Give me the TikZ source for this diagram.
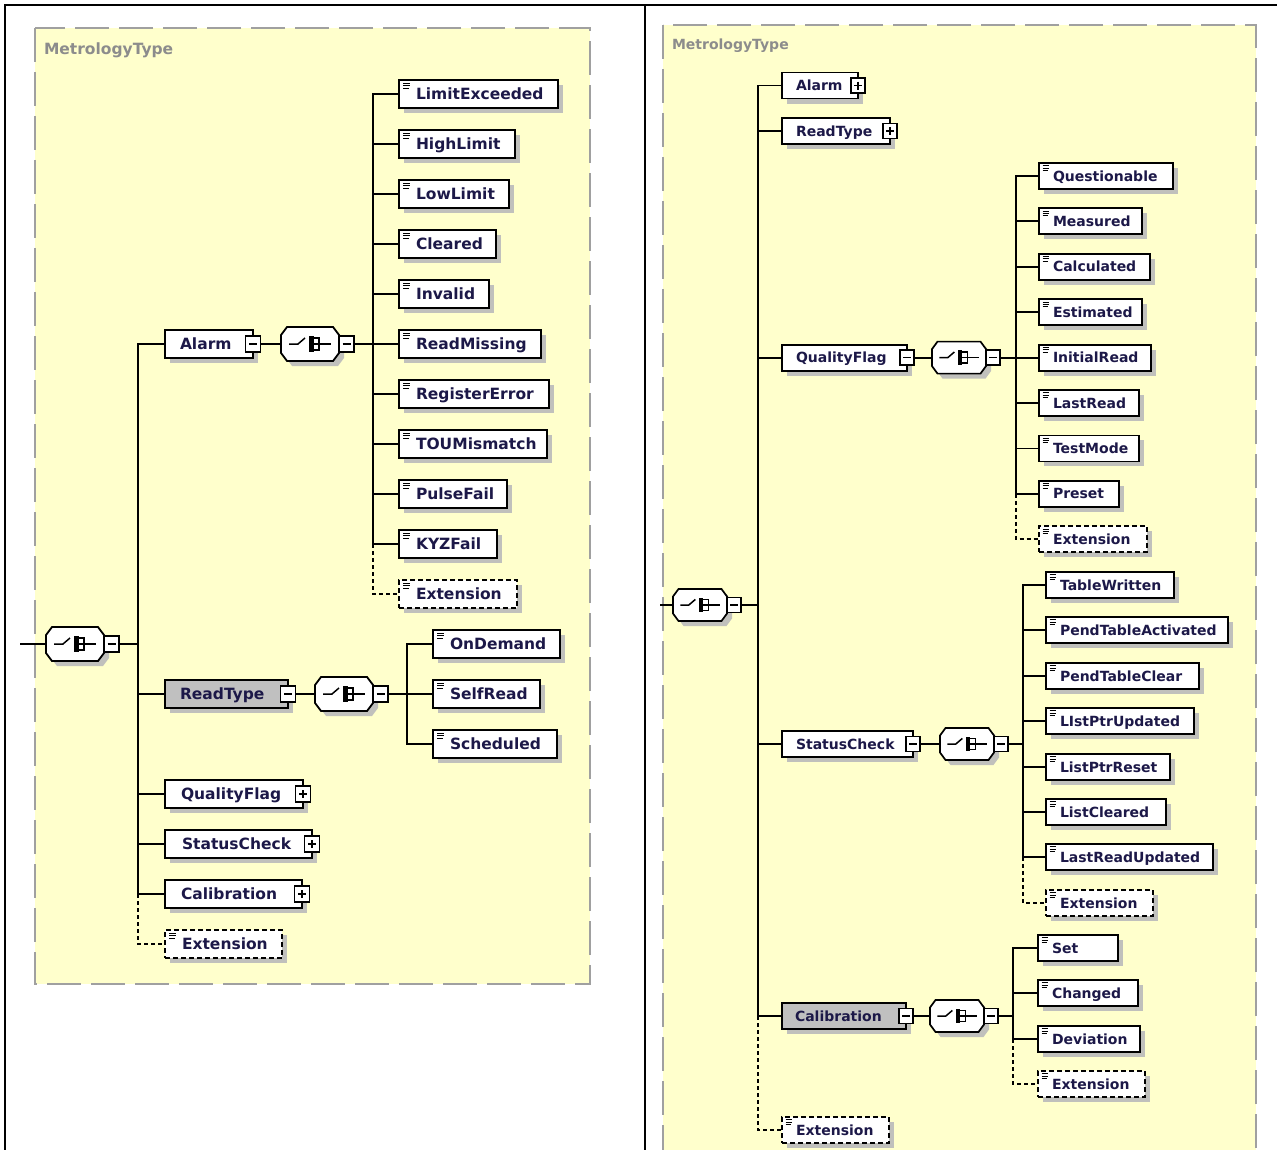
\documentclass[tikz,border=0pt]{standalone}
\usepackage{fontspec}
\setmainfont{DejaVu Sans}
\usetikzlibrary{shadows,calc}
\definecolor{frameyellow}{RGB}{255,255,204}
\definecolor{framegray}{RGB}{160,160,160}
\definecolor{shadowgray}{RGB}{192,192,188}
\definecolor{namecol}{RGB}{28,24,72}
\definecolor{shadecol}{RGB}{192,192,192}
\definecolor{labelgray}{RGB}{140,140,140}
\newcommand{\bx}[3]{\hbox to #1pt{\hskip#2pt\relax #3\hss}}
\newcommand{\fL}{\bfseries\fontsize{15.5}{18}\selectfont}
\newcommand{\fR}{\bfseries\fontsize{14}{16}\selectfont}
\begin{document}
\begin{tikzpicture}[x=1pt,y=-1pt,
  every node/.style={inner sep=0pt,outer sep=0pt},
  conn/.style={line width=1.8pt,black},
  optconn/.style={line width=1.6pt,black,dash pattern=on 4pt off 3pt},
  shad/.style={drop shadow={shadow xshift=5pt,shadow yshift=-5pt,fill=shadowgray,opacity=1}},
  boxbase/.style={draw,line width=1.8pt,fill=white,shad,anchor=west,text=namecol},
  elL/.style={boxbase,minimum height=28pt,font=\fL,text height=11.3pt,text depth=0pt},
  elR/.style={boxbase,minimum height=26pt,font=\fR,text height=10.2pt,text depth=0pt},
  optbox/.style={dash pattern=on 5pt off 3pt},
  shaded/.style={fill=shadecol},
  hexL/.style={rectangle,minimum width=58pt,minimum height=34pt},
  hexR/.style={rectangle,minimum width=54pt,minimum height=32pt},
  pmL/.style={draw,line width=1.4pt,fill=white,minimum width=15pt,minimum height=16pt},
  pmR/.style={draw,line width=1.3pt,fill=white,minimum width=14pt,minimum height=15pt},
  lbl/.style={anchor=base west,text=labelgray},
  octL/.pic={
    \fill[shadowgray,shift={(5,5)}] (-29,-9) -- (-23,-17) -- (23,-17) -- (29,-9) -- (29,9) -- (23,17) -- (-23,17) -- (-29,9) -- cycle;
    \filldraw[fill=white,line width=1.8pt] (-29,-9) -- (-23,-17) -- (23,-17) -- (29,-9) -- (29,9) -- (23,17) -- (-23,17) -- (-29,9) -- cycle;
  },
  octR/.pic={
    \fill[shadowgray,shift={(5,5)}] (-27,-8.5) -- (-21.5,-16) -- (21.5,-16) -- (27,-8.5) -- (27,8.5) -- (21.5,16) -- (-21.5,16) -- (-27,8.5) -- cycle;
    \filldraw[fill=white,line width=1.7pt] (-27,-8.5) -- (-21.5,-16) -- (21.5,-16) -- (27,-8.5) -- (27,8.5) -- (21.5,16) -- (-21.5,16) -- (-27,8.5) -- cycle;
  },
  seqsym/.pic={
    \draw[line width=1.5pt] (-21,0) -- (-12,0) -- (-5,-6);
    \fill (-1.5,-8) rectangle (3.5,8);
    \draw[line width=1.5pt] (3.5,-6) -- (9,-6) -- (9,6) -- (3.5,6) (3.5,0) -- (21,0);
  },
  minussym/.pic={\draw[line width=1.3pt] (-4,0) -- (4,0);},
  plussym/.pic={\draw[line width=1.3pt] (-4,0) -- (4,0) (0,-4) -- (0,4);},
  leafsym/.pic={\draw[line width=0.9pt] (4,3) -- (11,3) (4,5.5) -- (11,5.5) (4,8) -- (10,8);}
]
\useasboundingbox (0,0) rectangle (1277,1150);
\clip (0,0) rectangle (1277,1150);

% ---------- frames ----------
\fill[frameyellow] (35,28) rectangle (590,984);
\draw[framegray,line width=2pt,dash pattern=on 34pt off 10pt] (35,28) rectangle (590,984);
\fill[frameyellow] (663,25) rectangle (1256,1170);
\draw[framegray,line width=2pt,dash pattern=on 34pt off 10pt] (663,25) rectangle (1256,1170);
\draw[line width=2.5pt] (5,1160) -- (5,5) -- (1290,5);
\draw[line width=2.5pt] (645,5) -- (645,1160);
\node[lbl,font=\fL] (titleL) at (44,55) {MetrologyType};
\node[lbl,font=\fR] (titleR) at (672,50) {MetrologyType};

% =================== LEFT PANEL ===================
\coordinate (rinL) at (20,644);
\node[hexL] (rootL) at (75,644) {};
\pic at (rootL) {octL}; \pic at (rootL) {seqsym};
\node[pmL,anchor=west] (rootLpm) at (rootL.east) {};
\pic at (rootLpm) {minussym};
\coordinate (jA) at (138,644);

% Alarm
\node[elL] (alarmL) at (165,344) {\bx{88}{15}{Alarm}};
\node[pmL] (alarmLpm) at (alarmL.east) {}; \pic at (alarmLpm) {minussym};
\node[hexL] (hexAL) at (310,344) {}; \pic at (hexAL) {octL}; \pic at (hexAL) {seqsym};
\node[pmL,anchor=west] (hexALpm) at (hexAL.east) {}; \pic at (hexALpm) {minussym};
\coordinate (jB) at (373,344);

\foreach \n/\yy/\w/\t in {lA1/94/159/LimitExceeded,lA2/144/116/HighLimit,lA3/194/110/LowLimit,lA4/244/97/Cleared,lA5/294/90/Invalid,lA6/344/142/ReadMissing,lA7/394/150/RegisterError,lA8/444/148/TOUMismatch,lA9/494/108/PulseFail,lA10/544/98/KYZFail}{
  \node[elL] (\n) at (399,\yy) {\bx{\w}{17}{\t}};
  \pic at (\n.north west) {leafsym};
}
\node[elL,optbox] (lAx) at (399,594) {\bx{118}{17}{Extension}};
\pic at (lAx.north west) {leafsym};

% ReadType
\node[elL,shaded] (readL) at (165,694) {\bx{123}{15}{ReadType}};
\node[pmL] (readLpm) at (readL.east) {}; \pic at (readLpm) {minussym};
\node[hexL] (hexRL) at (344,694) {}; \pic at (hexRL) {octL}; \pic at (hexRL) {seqsym};
\node[pmL,anchor=west] (hexRLpm) at (hexRL.east) {}; \pic at (hexRLpm) {minussym};
\coordinate (jC) at (407,694);
\foreach \n/\yy/\w/\t in {lB1/644/127/OnDemand,lB2/694/107/SelfRead,lB3/744/124/Scheduled}{
  \node[elL] (\n) at (433,\yy) {\bx{\w}{17}{\t}};
  \pic at (\n.north west) {leafsym};
}

% other children
\node[elL] (qualL) at (165,794) {\bx{138}{16}{QualityFlag}};
\node[pmL] (qualLpm) at (qualL.east) {}; \pic at (qualLpm) {plussym};
\node[elL] (statL) at (165,844) {\bx{147}{17}{StatusCheck}};
\node[pmL] (statLpm) at (statL.east) {}; \pic at (statLpm) {plussym};
\node[elL] (calL) at (165,894) {\bx{137}{16}{Calibration}};
\node[pmL] (calLpm) at (calL.east) {}; \pic at (calLpm) {plussym};
\node[elL,optbox] (extL) at (165,944) {\bx{117}{17}{Extension}};
\pic at (extL.north west) {leafsym};

% left connectors
\draw[conn] (rinL) -- (rootL.west);
\draw[conn] (rootLpm.east) -- (jA);
\foreach \c in {alarmL,readL,qualL,statL,calL}{\draw[conn] (jA) |- (\c.west);}
\draw[optconn] (jA |- calL.west) |- (extL.west);
\draw[conn] (alarmLpm.east) -- (hexAL.west);
\draw[conn] (hexALpm.east) -- (jB);
\foreach \c in {lA1,lA2,lA3,lA4,lA5,lA6,lA7,lA8,lA9,lA10}{\draw[conn] (jB) |- (\c.west);}
\draw[optconn] (jB |- lA10.west) |- (lAx.west);
\draw[conn] (readLpm.east) -- (hexRL.west);
\draw[conn] (hexRLpm.east) -- (jC);
\foreach \c in {lB1,lB2,lB3}{\draw[conn] (jC) |- (\c.west);}

% =================== RIGHT PANEL ===================
\coordinate (rinR) at (660,605);
\node[hexR] (rootR) at (700,605) {};
\pic at (rootR) {octR}; \pic[scale=0.93] at (rootR) {seqsym};
\node[pmR,anchor=west] (rootRpm) at (rootR.east) {};
\pic at (rootRpm) {minussym};
\coordinate (jD) at (758,605);

\node[elR] (alarmR) at (782,85.6) {\bx{76}{14}{Alarm}};
\node[pmR] (alarmRpm) at (alarmR.east) {}; \pic at (alarmRpm) {plussym};
\node[elR] (readR) at (782,131) {\bx{108}{14}{ReadType}};
\node[pmR] (readRpm) at (readR.east) {}; \pic at (readRpm) {plussym};

% QualityFlag
\node[elR] (qualR) at (782,357.6) {\bx{125}{14}{QualityFlag}};
\node[pmR] (qualRpm) at (qualR.east) {}; \pic at (qualRpm) {minussym};
\node[hexR] (hexQR) at (959,357.6) {}; \pic at (hexQR) {octR}; \pic[scale=0.93] at (hexQR) {seqsym};
\node[pmR,anchor=west] (hexQRpm) at (hexQR.east) {}; \pic at (hexQRpm) {minussym};
\coordinate (jE) at (1016,357.6);
\foreach \n/\yy/\w/\t in {q1/176/134/Questionable,q2/221.4/103/Measured,q3/266.8/111/Calculated,q4/312.2/103/Estimated,q5/357.6/112/InitialRead,q6/403/100/LastRead,q7/448.4/100/TestMode,q8/493.8/80/Preset}{
  \node[elR] (\n) at (1039,\yy) {\bx{\w}{14}{\t}};
  \pic[scale=0.93] at (\n.north west) {leafsym};
}
\node[elR,optbox] (qx) at (1039,539.2) {\bx{108}{14}{Extension}};
\pic[scale=0.93] at (qx.north west) {leafsym};

% StatusCheck
\node[elR] (statR) at (782,744) {\bx{131}{14}{StatusCheck}};
\node[pmR] (statRpm) at (statR.east) {}; \pic at (statRpm) {minussym};
\node[hexR] (hexSR) at (967,744) {}; \pic at (hexSR) {octR}; \pic[scale=0.93] at (hexSR) {seqsym};
\node[pmR,anchor=west] (hexSRpm) at (hexSR.east) {}; \pic at (hexSRpm) {minussym};
\coordinate (jF) at (1023,744);
\foreach \n/\yy/\w/\t in {s1/585/128/TableWritten,s2/630/182/PendTableActivated,s3/676/153/PendTableClear,s4/721/148/LIstPtrUpdated,s5/767/124/ListPtrReset,s6/812/120/ListCleared,s7/857/167/LastReadUpdated}{
  \node[elR] (\n) at (1046,\yy) {\bx{\w}{14}{\t}};
  \pic[scale=0.93] at (\n.north west) {leafsym};
}
\node[elR,optbox] (sx) at (1046,903) {\bx{107}{14}{Extension}};
\pic[scale=0.93] at (sx.north west) {leafsym};

% Calibration
\node[elR,shaded] (calR) at (782,1016) {\bx{124}{13}{Calibration}};
\node[pmR] (calRpm) at (calR.east) {}; \pic at (calRpm) {minussym};
\node[hexR] (hexCR) at (957,1016) {}; \pic at (hexCR) {octR}; \pic[scale=0.93] at (hexCR) {seqsym};
\node[pmR,anchor=west] (hexCRpm) at (hexCR.east) {}; \pic at (hexCRpm) {minussym};
\coordinate (jG) at (1013,1016);
\foreach \n/\yy/\w/\t in {c1/948/80/Set,c2/993/100/Changed,c3/1039/102/Deviation}{
  \node[elR] (\n) at (1038,\yy) {\bx{\w}{14}{\t}};
  \pic[scale=0.93] at (\n.north west) {leafsym};
}
\node[elR,optbox] (cx) at (1038,1084) {\bx{107}{14}{Extension}};
\pic[scale=0.93] at (cx.north west) {leafsym};

\node[elR,optbox] (extR) at (782,1130) {\bx{107}{14}{Extension}};
\pic[scale=0.93] at (extR.north west) {leafsym};

% right connectors
\draw[conn] (rinR) -- (rootR.west);
\draw[conn] (rootRpm.east) -- (jD);
\foreach \c in {alarmR,readR,qualR,statR,calR}{\draw[conn] (jD) |- (\c.west);}
\draw[optconn] (jD |- calR.west) |- (extR.west);
\draw[conn] (qualRpm.east) -- (hexQR.west);
\draw[conn] (hexQRpm.east) -- (jE);
\foreach \c in {q1,q2,q3,q4,q5,q6,q7,q8}{\draw[conn] (jE) |- (\c.west);}
\draw[optconn] (jE |- q8.west) |- (qx.west);
\draw[conn] (statRpm.east) -- (hexSR.west);
\draw[conn] (hexSRpm.east) -- (jF);
\foreach \c in {s1,s2,s3,s4,s5,s6,s7}{\draw[conn] (jF) |- (\c.west);}
\draw[optconn] (jF |- s7.west) |- (sx.west);
\draw[conn] (calRpm.east) -- (hexCR.west);
\draw[conn] (hexCRpm.east) -- (jG);
\foreach \c in {c1,c2,c3}{\draw[conn] (jG) |- (\c.west);}
\draw[optconn] (jG |- c3.west) |- (cx.west);
\end{tikzpicture}
\end{document}
